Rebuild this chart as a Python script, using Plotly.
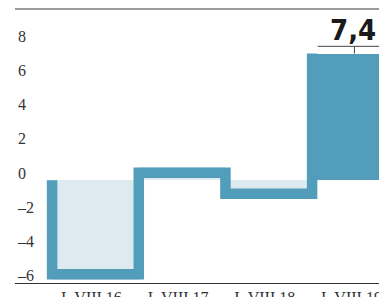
import plotly.graph_objects as go

# ---- data ----
categories = ["I–VIII 16", "I–VIII 17", "I–VIII 18", "I–VIII 19"]
values = [-5.8, 0.75, -1.1, 7.4]          # y/y change, %
y_ticks = [-6, -4, -2, 0, 2, 4, 6, 8]
y_tick_text = ["–6", "–4", "–2", "0", "2", "4", "6", "8"]

# ---- styling ----
DARK = "#519dba"
LIGHT = "#ddebf1"
LINE_PX = 10.5
PX_PER_UNIT = 274 / 16.0
half = LINE_PX / 2 / PX_PER_UNIT
SERIF = "Liberation Serif, DejaVu Serif, serif"

xs = list(range(len(categories)))
past = values[:-1]
cur = values[-1]

fig = go.Figure()

# light fills for past years
fig.add_trace(go.Bar(x=xs[:-1], y=past, base=0, width=1.0,
                     marker=dict(color=LIGHT, line=dict(width=0)),
                     hoverinfo="skip", showlegend=False))

# current year solid bar
fig.add_trace(go.Bar(x=[xs[-1]], y=[cur], base=0, width=1.0,
                     marker=dict(color=DARK, line=dict(width=0)),
                     hoverinfo="skip", showlegend=False))

# thick step outline drawn inside the bars
sx, sy = [xs[0] - 0.5], [0]
for i, v in enumerate(past):
    c = v - half if v > 0 else v + half
    sx += [i - 0.5, i + 0.5]
    sy += [c, c]
sx.append(xs[-1] - 0.5)
sy.append(cur)
fig.add_trace(go.Scatter(x=sx, y=sy, mode="lines",
                         line=dict(color=DARK, width=LINE_PX),
                         hoverinfo="skip", showlegend=False))

# bracket above current value
bx0, bx1 = xs[-1] - 0.435, xs[-1] + 0.45
by = cur + 0.42
fig.add_trace(go.Scatter(x=[bx0, bx1], y=[by, by], mode="lines",
                         line=dict(color="#444", width=1),
                         hoverinfo="skip", showlegend=False))
fig.add_trace(go.Scatter(x=[xs[-1] - 0.012, xs[-1] - 0.012], y=[by, cur], mode="lines",
                         line=dict(color="#444", width=1),
                         hoverinfo="skip", showlegend=False))

fig.add_annotation(x=xs[-1] - 0.03, y=by, text=f"{cur:.1f}".replace(".", ","),
                   showarrow=False, yanchor="bottom", yshift=-3,
                   font=dict(family="Liberation Sans Narrow, DejaVu Sans Condensed, Roboto, sans-serif",
                             size=29, color="#1a1a1a", weight="bold"))

# top rule
fig.add_shape(type="line", xref="paper", yref="paper", x0=0, x1=1, y0=1, y1=1,
              line=dict(color="#7a7a7a", width=1.5))

# page body has an 8px margin: size the figure to fit the 387x297 window
fig.update_layout(
    template="none",
    width=379, height=289,
    margin=dict(l=7, r=0, t=1, b=14, pad=0, autoexpand=False),
    paper_bgcolor="white", plot_bgcolor="white",
    barmode="overlay", bargap=0,
    font=dict(family=SERIF, size=16, color="#333"),
    xaxis=dict(range=[-0.928, 3.364], tickmode="array", tickvals=xs, ticktext=categories,
               tickfont=dict(family=SERIF, size=16, color="#333"), ticklabelshift=-4,
               showgrid=False, zeroline=False, showline=True, linecolor="#333", linewidth=1,
               ticks="", automargin=False, fixedrange=True),
    yaxis=dict(range=[-6, 10], tickmode="array", tickvals=y_ticks, ticktext=y_tick_text,
               tickfont=dict(family=SERIF, size=16, color="#333"),
               ticklabelposition="inside top", ticklabelshift=4, ticklabeloverflow="allow",
               showgrid=False, zeroline=False,
               showline=False, ticks="", automargin=False, fixedrange=True),
)

fig.write_html("out.html", config={"displayModeBar": False})
